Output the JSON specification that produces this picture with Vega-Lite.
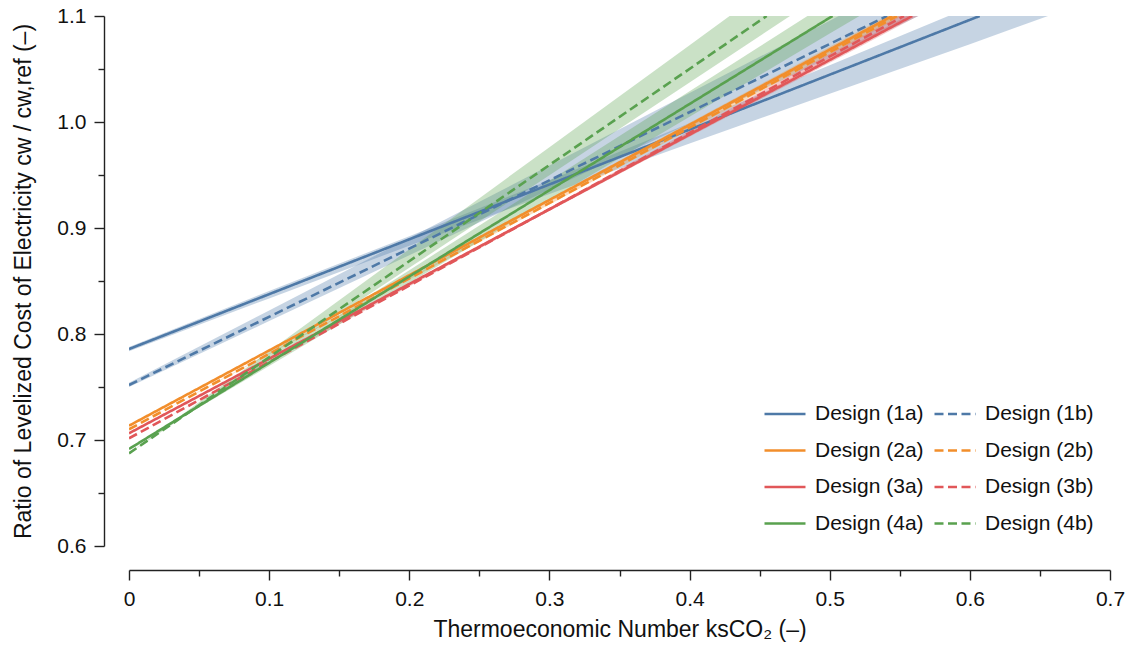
{
  "$schema": "https://vega.github.io/schema/vega-lite/v6.json",
  "width": 981,
  "height": 530,
  "autosize": {"type": "none"},
  "padding": {"left": 129, "top": 16, "right": 23, "bottom": 103},
  "background": "white",
  "config": {
    "view": {"stroke": null},
    "font": "Liberation Sans",
    "axis": {
      "grid": false,
      "domainColor": "#222222",
      "domainWidth": 1.4,
      "tickColor": "#222222",
      "tickWidth": 1.4,
      "labelFont": "Liberation Sans",
      "labelFontSize": 21,
      "labelColor": "#111111",
      "titleFont": "Liberation Sans",
      "titleFontSize": 23,
      "titleFontWeight": "normal",
      "titleColor": "#111111",
      "labelOverlap": false,
      "labelFlush": false,
      "labelBound": false
    },
    "legend": {
      "orient": "none",
      "legendX": 634,
      "legendY": 376,
      "columns": 2,
      "direction": "horizontal",
      "symbolType": "stroke",
      "symbolSize": 1681,
      "symbolStrokeWidth": 2.5,
      "labelFont": "Liberation Sans",
      "labelFontSize": 21,
      "labelColor": "#111111",
      "labelOffset": 8,
      "columnPadding": 5,
      "rowPadding": 4.5,
      "padding": 0,
      "labelLimit": 300
    }
  },
  "datasets": {
    "lines": [
      {"design": "Design (1a)", "x": 0, "y": 0.7858},
      {"design": "Design (1a)", "x": 0.607, "y": 1.1},
      {"design": "Design (1b)", "x": 0, "y": 0.7519},
      {"design": "Design (1b)", "x": 0.541, "y": 1.1},
      {"design": "Design (2a)", "x": 0, "y": 0.7135},
      {"design": "Design (2a)", "x": 0.5446, "y": 1.1},
      {"design": "Design (2b)", "x": 0, "y": 0.7101},
      {"design": "Design (2b)", "x": 0.548, "y": 1.1},
      {"design": "Design (3a)", "x": 0, "y": 0.7063},
      {"design": "Design (3a)", "x": 0.5589, "y": 1.1},
      {"design": "Design (3b)", "x": 0, "y": 0.7016},
      {"design": "Design (3b)", "x": 0.553, "y": 1.1},
      {"design": "Design (4a)", "x": 0, "y": 0.6915},
      {"design": "Design (4a)", "x": 0.502, "y": 1.1},
      {"design": "Design (4b)", "x": 0, "y": 0.6874},
      {"design": "Design (4b)", "x": 0.455, "y": 1.1}
    ],
    "bands": [
      {"band": "1a", "x": 0, "lo": 0.7838, "hi": 0.7878},
      {"band": "1a", "x": 0.1, "lo": 0.8336, "hi": 0.8406},
      {"band": "1a", "x": 0.2, "lo": 0.8833, "hi": 0.8923},
      {"band": "1a", "x": 0.3, "lo": 0.9321, "hi": 0.9451},
      {"band": "1a", "x": 0.4, "lo": 0.9798, "hi": 0.9988},
      {"band": "1a", "x": 0.5, "lo": 1.0266, "hi": 1.0536},
      {"band": "1a", "x": 0.6, "lo": 1.0734, "hi": 1.1084},
      {"band": "1a", "x": 0.7, "lo": 1.1211, "hi": 1.1631},
      {"band": "1b", "x": 0, "lo": 0.7499, "hi": 0.7539},
      {"band": "1b", "x": 0.1, "lo": 0.8122, "hi": 0.8222},
      {"band": "1b", "x": 0.2, "lo": 0.8742, "hi": 0.8906},
      {"band": "1b", "x": 0.3, "lo": 0.9363, "hi": 0.9589},
      {"band": "1b", "x": 0.4, "lo": 0.9985, "hi": 1.0273},
      {"band": "1b", "x": 0.5, "lo": 1.0606, "hi": 1.0956},
      {"band": "1b", "x": 0.6, "lo": 1.1227, "hi": 1.1639},
      {"band": "1b", "x": 0.7, "lo": 1.1849, "hi": 1.2323},
      {"band": "2a", "x": 0, "lo": 0.7135, "hi": 0.7135},
      {"band": "2a", "x": 0.1, "lo": 0.7840, "hi": 0.7850},
      {"band": "2a", "x": 0.2, "lo": 0.8544, "hi": 0.8564},
      {"band": "2a", "x": 0.3, "lo": 0.9249, "hi": 0.9279},
      {"band": "2a", "x": 0.4, "lo": 0.9954, "hi": 0.9994},
      {"band": "2a", "x": 0.5, "lo": 1.0659, "hi": 1.0709},
      {"band": "2a", "x": 0.6, "lo": 1.1363, "hi": 1.1423},
      {"band": "2a", "x": 0.7, "lo": 1.2068, "hi": 1.2138},
      {"band": "2b", "x": 0, "lo": 0.7101, "hi": 0.7101},
      {"band": "2b", "x": 0.1, "lo": 0.7808, "hi": 0.7818},
      {"band": "2b", "x": 0.2, "lo": 0.8514, "hi": 0.8534},
      {"band": "2b", "x": 0.3, "lo": 0.9221, "hi": 0.9251},
      {"band": "2b", "x": 0.4, "lo": 0.9927, "hi": 0.9967},
      {"band": "2b", "x": 0.5, "lo": 1.0634, "hi": 1.0684},
      {"band": "2b", "x": 0.6, "lo": 1.1340, "hi": 1.1400},
      {"band": "2b", "x": 0.7, "lo": 1.2047, "hi": 1.2117},
      {"band": "3a", "x": 0, "lo": 0.7063, "hi": 0.7063},
      {"band": "3a", "x": 0.1, "lo": 0.7762, "hi": 0.7772},
      {"band": "3a", "x": 0.2, "lo": 0.8462, "hi": 0.8482},
      {"band": "3a", "x": 0.3, "lo": 0.9161, "hi": 0.9191},
      {"band": "3a", "x": 0.4, "lo": 0.9861, "hi": 0.9901},
      {"band": "3a", "x": 0.5, "lo": 1.0560, "hi": 1.0610},
      {"band": "3a", "x": 0.6, "lo": 1.1259, "hi": 1.1319},
      {"band": "3a", "x": 0.7, "lo": 1.1959, "hi": 1.2029},
      {"band": "3b", "x": 0, "lo": 0.7016, "hi": 0.7016},
      {"band": "3b", "x": 0.1, "lo": 0.7731, "hi": 0.7741},
      {"band": "3b", "x": 0.2, "lo": 0.8447, "hi": 0.8467},
      {"band": "3b", "x": 0.3, "lo": 0.9162, "hi": 0.9192},
      {"band": "3b", "x": 0.4, "lo": 0.9878, "hi": 0.9918},
      {"band": "3b", "x": 0.5, "lo": 1.0593, "hi": 1.0643},
      {"band": "3b", "x": 0.6, "lo": 1.1308, "hi": 1.1368},
      {"band": "3b", "x": 0.7, "lo": 1.2024, "hi": 1.2094},
      {"band": "4a", "x": 0, "lo": 0.6915, "hi": 0.6915},
      {"band": "4a", "x": 0.1, "lo": 0.7699, "hi": 0.7759},
      {"band": "4a", "x": 0.2, "lo": 0.8482, "hi": 0.8602},
      {"band": "4a", "x": 0.3, "lo": 0.9266, "hi": 0.9446},
      {"band": "4a", "x": 0.4, "lo": 1.0050, "hi": 1.0290},
      {"band": "4a", "x": 0.5, "lo": 1.0834, "hi": 1.1134},
      {"band": "4a", "x": 0.6, "lo": 1.1617, "hi": 1.1977},
      {"band": "4a", "x": 0.7, "lo": 1.2401, "hi": 1.2821},
      {"band": "4b", "x": 0, "lo": 0.6874, "hi": 0.6874},
      {"band": "4b", "x": 0.1, "lo": 0.7749, "hi": 0.7837},
      {"band": "4b", "x": 0.2, "lo": 0.8624, "hi": 0.8800},
      {"band": "4b", "x": 0.3, "lo": 0.9498, "hi": 0.9762},
      {"band": "4b", "x": 0.4, "lo": 1.0373, "hi": 1.0725},
      {"band": "4b", "x": 0.5, "lo": 1.1248, "hi": 1.1688},
      {"band": "4b", "x": 0.6, "lo": 1.2123, "hi": 1.2651},
      {"band": "4b", "x": 0.7, "lo": 1.2998, "hi": 1.3614}
    ]
  },
  "layer": [
    {
      "data": {"name": "bands"},
      "mark": {"type": "area", "clip": true, "fillOpacity": 0.32},
      "encoding": {
        "x": {
          "field": "x", "type": "quantitative",
          "scale": {"domain": [0, 0.7], "nice": false, "zero": false},
          "axis": {
            "title": "Thermoeconomic Number ksCO₂ (–)",
            "offset": 24,
            "values": [0, 0.025, 0.05, 0.075, 0.1, 0.125, 0.15, 0.175, 0.2, 0.225, 0.25, 0.275, 0.3, 0.325, 0.35, 0.375, 0.4, 0.425, 0.45, 0.475, 0.5, 0.525, 0.55, 0.575, 0.6, 0.625, 0.65, 0.675, 0.7],
            "tickSize": {"condition": {"test": "abs(round(datum.value*10) - datum.value*10) < 0.01", "value": 10}, "value": 6},
            "labelExpr": "abs(round(datum.value*10) - datum.value*10) < 0.01 ? (datum.value == 0 ? '0' : format(datum.value, '.1f')) : ''",
            "labelPadding": 8,
            "titlePadding": 9
          }
        },
        "y": {
          "field": "lo", "type": "quantitative",
          "scale": {"domain": [0.6, 1.1], "nice": false, "zero": false},
          "axis": {
            "title": "Ratio of Levelized Cost of Electricity cw / cw,ref (–)",
            "offset": 25,
            "values": [0.6, 0.625, 0.65, 0.675, 0.7, 0.725, 0.75, 0.775, 0.8, 0.825, 0.85, 0.875, 0.9, 0.925, 0.95, 0.975, 1.0, 1.025, 1.05, 1.075, 1.1],
            "tickSize": {"condition": {"test": "abs(round(datum.value*10) - datum.value*10) < 0.01", "value": 10}, "value": 6},
            "labelExpr": "abs(round(datum.value*10) - datum.value*10) < 0.01 ? format(datum.value, '.1f') : ''",
            "labelPadding": 8,
            "titlePadding": 21
          }
        },
        "y2": {"field": "hi"},
        "fill": {
          "field": "band", "type": "nominal",
          "scale": {
            "domain": ["1a", "1b", "2a", "2b", "3a", "3b", "4a", "4b"],
            "range": ["#4e79a7", "#4e79a7", "#f28e2b", "#f28e2b", "#e15759", "#e15759", "#59a14f", "#59a14f"]
          },
          "legend": null
        },
        "detail": {"field": "band"}
      }
    },
    {
      "data": {"name": "lines"},
      "mark": {"type": "line", "clip": true, "strokeWidth": 2.6},
      "encoding": {
        "x": {"field": "x", "type": "quantitative"},
        "y": {"field": "y", "type": "quantitative"},
        "color": {
          "field": "design", "type": "nominal",
          "scale": {
            "domain": ["Design (1a)", "Design (1b)", "Design (2a)", "Design (2b)", "Design (3a)", "Design (3b)", "Design (4a)", "Design (4b)"],
            "range": ["#4e79a7", "#4e79a7", "#f28e2b", "#f28e2b", "#e15759", "#e15759", "#59a14f", "#59a14f"]
          },
          "title": null
        },
        "strokeDash": {
          "field": "design", "type": "nominal",
          "scale": {
            "domain": ["Design (1a)", "Design (1b)", "Design (2a)", "Design (2b)", "Design (3a)", "Design (3b)", "Design (4a)", "Design (4b)"],
            "range": [[1, 0], [9, 4.5], [1, 0], [9, 4.5], [1, 0], [9, 4.5], [1, 0], [9, 4.5]]
          },
          "title": null
        }
      }
    },
    {
      "mark": {"type": "rule", "color": "#222222", "strokeWidth": 1.4},
      "encoding": {"y": {"datum": 1.0}}
    }
  ]
}
